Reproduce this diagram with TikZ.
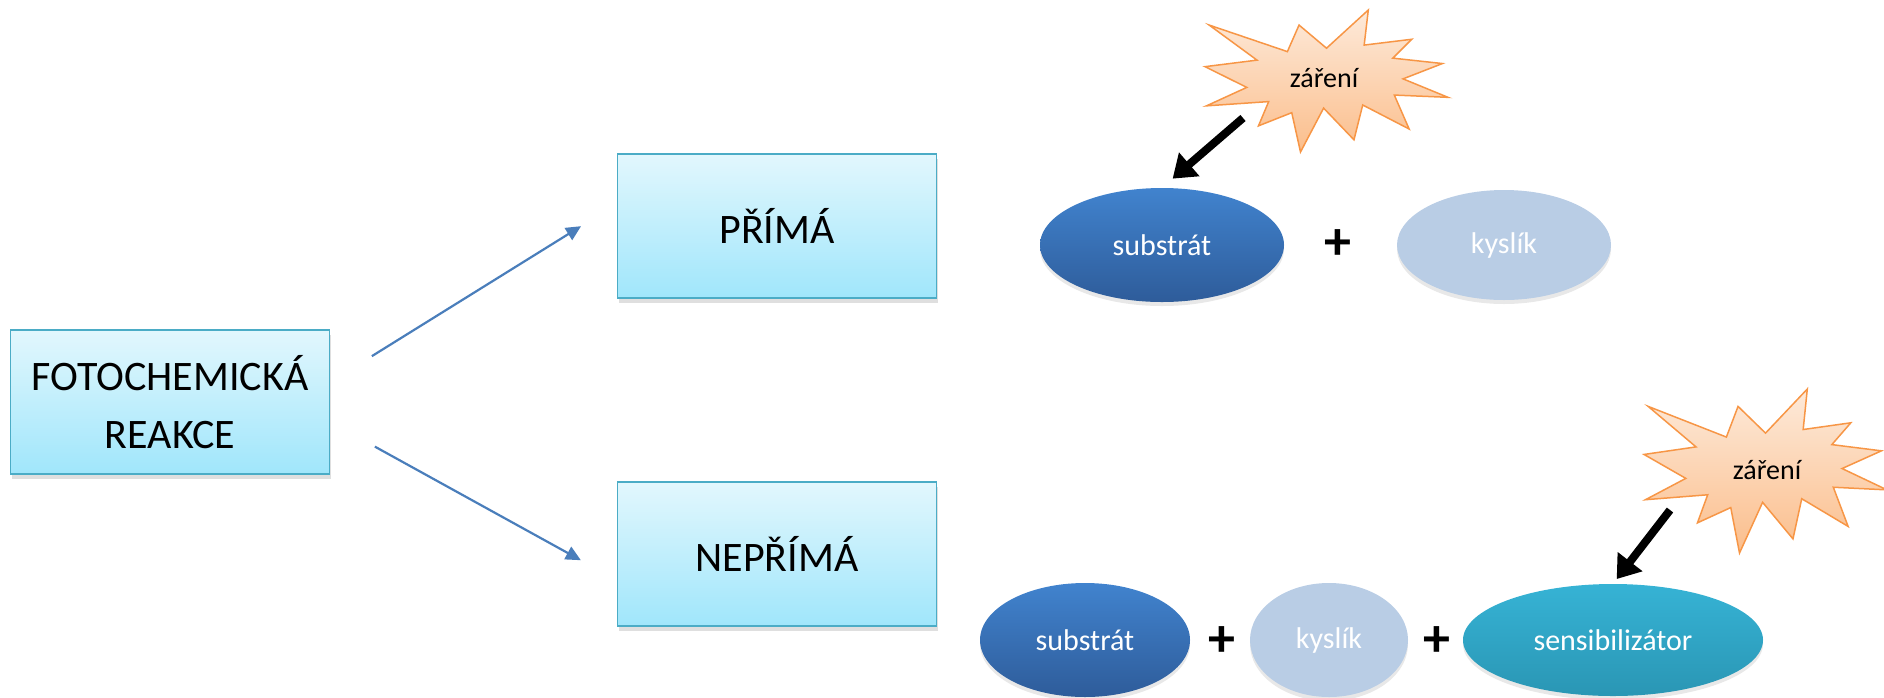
\documentclass[tikz,border=0pt]{standalone}
\usepackage{fontspec}
\setmainfont{Carlito}
\usetikzlibrary{positioning}
\usetikzlibrary{calc}
\usetikzlibrary{shapes.geometric}
\usetikzlibrary{arrows.meta}
\usetikzlibrary{shadows}

\definecolor{boxline}{RGB}{75,172,198}
\definecolor{boxtop}{RGB}{226,247,253}
\definecolor{boxbot}{RGB}{160,230,251}
\definecolor{subtop}{RGB}{65,131,206}
\definecolor{subbot}{RGB}{46,92,154}
\definecolor{kyslfill}{RGB}{185,205,229}
\definecolor{sentop}{RGB}{54,179,213}
\definecolor{senbot}{RGB}{42,150,180}
\definecolor{boomline}{RGB}{247,150,70}
\definecolor{boomtop}{RGB}{253,234,218}
\definecolor{boombot}{RGB}{251,190,140}
\definecolor{arrblue}{RGB}{74,126,187}

\def\boompath{(50,26.9) -- (67.2,0) -- (65.5,24.7) -- (85.1,20.6) -- (77.3,33.9) -- (97.7,37.7) -- (81.5,48.5) -- (100,61.5) -- (77.9,59.9) -- (84.0,83.8) -- (64.9,66.9) -- (61.3,91.4) -- (48.8,69.1) -- (39.3,100) -- (35.7,72.3) -- (22.0,81.6) -- (26.2,64.5) -- (0.6,67.5) -- (17.2,54.5) -- (0,39.9) -- (21.4,35.3) -- (1.7,10.6) -- (33.9,29.3) -- (38.7,10.6) -- cycle}

\begin{document}
\begin{tikzpicture}[x=1pt,y=-1pt]
	\tikzset{box/.style = {shape=rectangle, draw=boxline, line width=1.5pt, top color=boxtop, bottom color=boxbot, minimum width=319pt, minimum height=144pt, align=center, font=\fontsize{42}{58}\selectfont, drop shadow={shadow xshift=1pt, shadow yshift=-5pt, opacity=0.25}}}
	\tikzset{molecule/.style = {shape=ellipse, inner sep=0pt, text=white, font=\fontsize{30}{36}\selectfont, drop shadow={shadow xshift=0pt, shadow yshift=-4pt, opacity=0.18}}}
	\tikzset{subst/.style = {molecule, top color=subtop, bottom color=subbot}}
	\tikzset{kysl/.style = {molecule, fill=kyslfill}}
	\tikzset{sens/.style = {molecule, top color=sentop, bottom color=senbot}}
	\tikzset{plussign/.style = {font=\fontsize{54}{54}\bfseries\selectfont, inner sep=0pt}}
	\tikzset{startext/.style = {font=\fontsize{28}{32}\selectfont, inner sep=0pt}}
	\tikzset{bluearr/.style = {-{Triangle[length=15pt,width=14pt]}, draw=arrblue, fill=arrblue, line width=2.2pt}}
	\tikzset{ray/.style = {-{Triangle[length=22pt,width=30pt]}, line width=8pt, black}}
	\tikzset{boom/.style = {draw=boomline, line width=1.5pt, top color=boomtop, bottom color=boombot, line join=miter}}

	\useasboundingbox (0,0) rectangle (1884,697);

	\node[box] (REAKCE) at (170,402) {FOTOCHEMICKÁ\\REAKCE};
	\node[box] (PRIMA) at (777,226) {PŘÍMÁ};
	\node[box] (NEPRIMA) at (777,554) {NEPŘÍMÁ};

	\draw[bluearr, shorten <=49pt, shorten >=42pt] ([yshift=20pt]REAKCE.east) -- ([yshift=22pt]PRIMA.west);
	\draw[bluearr, shorten <=51pt, shorten >=41pt] ([yshift=-20pt]REAKCE.east) -- ([yshift=-26pt]NEPRIMA.west);

	\node[subst, minimum width=244pt, minimum height=114pt] (SUBST1) at (1162,245) {substrát};
	\node[plussign] (PLUS1) at (1338,245) {+};
	\node[kysl, minimum width=214pt, minimum height=110pt] (KYSL1) at (1504,245) {kyslík};

	\node[subst, minimum width=210pt, minimum height=114pt] (SUBST2) at (1085,640) {substrát};
	\node[plussign] (PLUS2) at (1222,642) {+};
	\node[kysl, minimum width=158pt, minimum height=114pt] (KYSL2) at (1329,640) {kyslík};
	\node[plussign] (PLUS3) at (1437,642) {+};
	\node[sens, minimum width=300pt, minimum height=112pt] (SENS) at (1613,640) {sensibilizátor};

	\begin{scope}[shift={(1205,10)}, xscale=2.43, yscale=1.42]
		\path[boom] \boompath;
	\end{scope}
	\node[startext] (ZARENI1) at (1324,78) {záření};
	\begin{scope}[shift={(1644,389)}, xscale=2.43, yscale=1.64]
		\path[boom] \boompath;
	\end{scope}
	\node[startext] (ZARENI2) at (1767,470) {záření};

	\coordinate (RAY1) at (1243,118);
	\coordinate (RAY2) at (1670,510);
	\draw[ray, shorten >=14pt] (RAY1) -- (SUBST1.north);
	\draw[ray, shorten >=6pt] (RAY2) -- (SENS.north);
\end{tikzpicture}
\end{document}
